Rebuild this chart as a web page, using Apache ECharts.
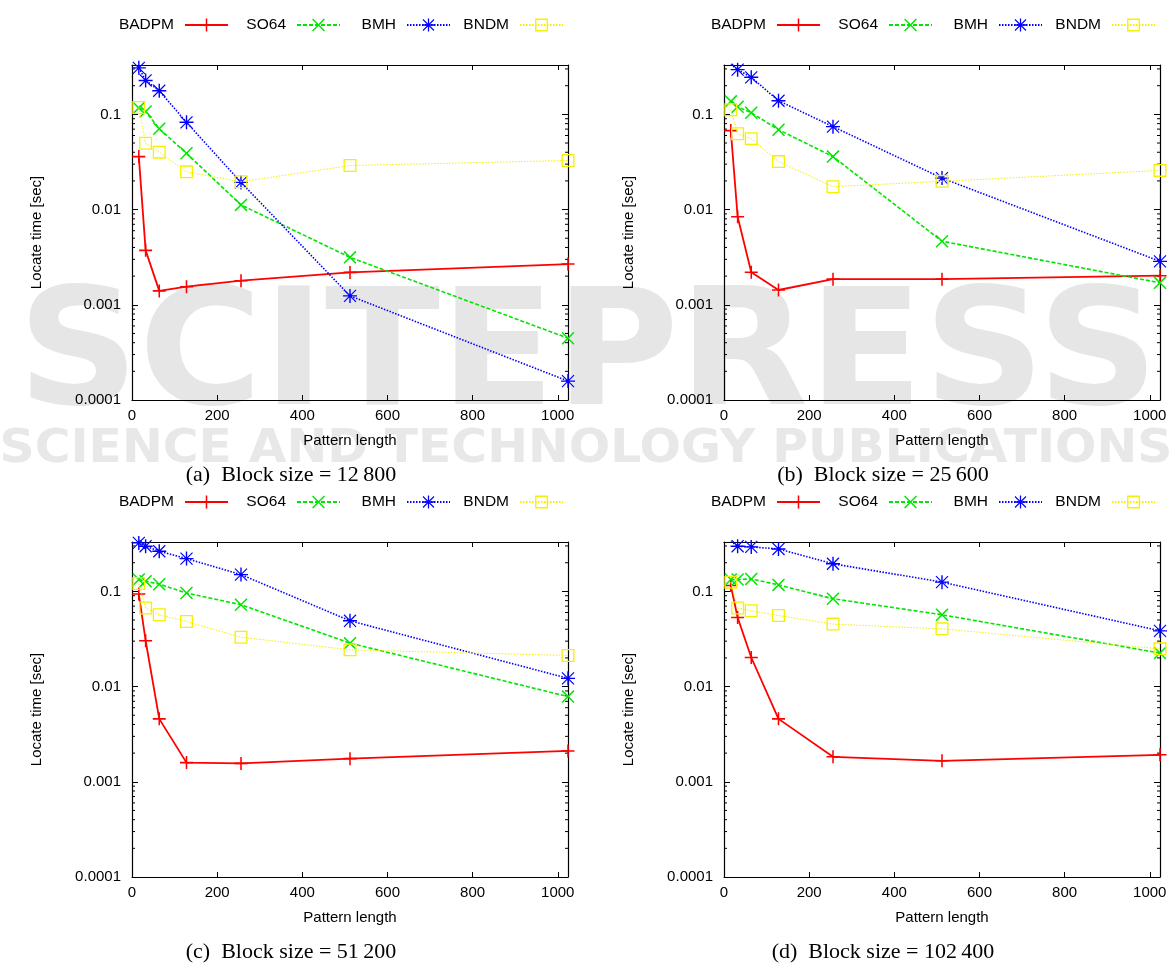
<!DOCTYPE html>
<html><head><meta charset="utf-8">
<script src="https://cdn.jsdelivr.net/npm/echarts@6/dist/echarts.min.js"></script>
<style>html,body{margin:0;padding:0;background:#fff}#chart{width:1172px;height:965px}</style>
</head><body><div id="chart"></div>
<script>
// ---------- data ----------
const patternLengths = [16, 32, 64, 128, 256, 512, 1024];
const algorithms = ['BADPM', 'SO64', 'BMH', 'BNDM'];
const captions = ['(a)\u2002Block size = 12\u2009800', '(b)\u2002Block size = 25\u2009600',
                  '(c)\u2002Block size = 51\u2009200', '(d)\u2002Block size = 102\u2009400'];
const xTickValues = [0, 200, 400, 600, 800, 1000];
const yTickLabels = ['0.0001', '0.001', '0.01', '0.1'];

// (a) block size 12 800
const a_BADPM = [0.0360, 0.00373, 0.00140, 0.00155, 0.00179, 0.00219, 0.00268];
const a_SO64  = [0.117, 0.107, 0.0705, 0.0390, 0.0112, 0.00315, 0.000446];
const a_BMH   = [0.308, 0.227, 0.177, 0.0825, 0.0193, 0.00124, 0.000158];
const a_BNDM  = [0.118, 0.0497, 0.0401, 0.0249, 0.0196, 0.0290, 0.0328];
// (b) block size 25 600
const b_BADPM = [0.0675, 0.0084, 0.00220, 0.00143, 0.00186, 0.00186, 0.00202];
const b_SO64  = [0.137, 0.120, 0.104, 0.0690, 0.0360, 0.00465, 0.00170];
const b_BMH   = [0.335, 0.295, 0.245, 0.139, 0.0743, 0.0214, 0.00286];
const b_BNDM  = [0.112, 0.0625, 0.0556, 0.0319, 0.0174, 0.0198, 0.0258];
// (c) block size 51 200
const c_BADPM = [0.0937, 0.0303, 0.00458, 0.00159, 0.00156, 0.00175, 0.00211];
const c_SO64  = [0.133, 0.128, 0.119, 0.0960, 0.0724, 0.0286, 0.00785];
const c_BMH   = [0.323, 0.298, 0.264, 0.221, 0.150, 0.0491, 0.0122];
const c_BNDM  = [0.121, 0.0668, 0.0568, 0.0483, 0.0330, 0.0243, 0.0212];
// (d) block size 102 400
const d_BADPM = [0.115, 0.0532, 0.0202, 0.00458, 0.00183, 0.00166, 0.00192];
const d_SO64  = [0.133, 0.133, 0.135, 0.117, 0.0837, 0.0568, 0.0225];
const d_BMH   = [0.336, 0.298, 0.293, 0.279, 0.195, 0.125, 0.0385];
const d_BNDM  = [0.125, 0.0668, 0.0625, 0.0558, 0.0453, 0.0404, 0.0249];

const panels = [
  [a_BADPM, a_SO64, a_BMH, a_BNDM],
  [b_BADPM, b_SO64, b_BMH, b_BNDM],
  [c_BADPM, c_SO64, c_BMH, c_BNDM],
  [d_BADPM, d_SO64, d_BMH, d_BNDM]
];

// ---------- styles ----------
const X_MAX = 1024, Y_MIN = 0.0001, Y_MAX = 0.33;
const FONT = '"Liberation Sans", Arial, Helvetica, sans-serif';
const colors = ['#ff0000', '#00e600', '#0000ff', '#f5f000'];
const sym = {
  plus: 'path://M0,44H100V56H0Z M44,0H56V100H44Z',
  cross: 'path://M0,8L8,0L100,92L92,100Z M92,0L100,8L8,100L0,92Z',
  star: 'path://M0,45H100V55H0Z M45,0H55V100H45Z M4,10L10,4L96,90L90,96Z M90,4L96,10L10,96L4,90Z',
  square: 'path://M0,0H100V100H0Z M10,10V90H90V10Z'
};
const seriesStyle = [
  {symbol: sym.plus, symbolSize: 13, lineStyle: {width: 1.8, type: 'solid'}},
  {symbol: sym.cross, symbolSize: 13, lineStyle: {width: 1.6, type: [4, 2]}},
  {symbol: sym.star, symbolSize: 14, lineStyle: {width: 1.6, type: [1.5, 1.5]}},
  {symbol: sym.square, symbolSize: 13, lineStyle: {width: 1, type: [1.5, 1.5]}}
];

const grids = [
  {left: 132, top: 65, width: 436, height: 335},
  {left: 724, top: 65, width: 436, height: 335},
  {left: 132, top: 542, width: 436, height: 335},
  {left: 724, top: 542, width: 436, height: 335}
];
const legendSampleEnds = [229, 341, 451, 564];
const legendRowY = [25, 25, 502, 502];

// minor ticks of the log axis (2..9 per decade)
const minorMultipliers = [2, 3, 4, 5, 6, 7, 8, 9];
const decades = [0.0001, 0.001, 0.01, 0.1];
const minorTickValues = [];
decades.forEach(d => minorMultipliers.forEach(m => { const v = m * d; if (v < Y_MAX) minorTickValues.push(+v.toPrecision(3)); }));

const xAxes = [], yAxes = [], series = [], legends = [], graphics = [];

function logLabel(v) {
  const l = Math.log10(v);
  if (Math.abs(l - Math.round(l)) > 1e-6) return '';
  const s = Number(v.toPrecision(1)).toFixed(Math.max(0, -Math.round(l)));
  return yTickLabels.indexOf(s) >= 0 ? s : '';
}

grids.forEach((g, i) => {
  const axisLine = {show: true, onZero: false, lineStyle: {color: '#000', width: 1.2}};
  xAxes.push({
    type: 'value', gridIndex: i, position: 'bottom', min: 0, max: X_MAX, interval: 200,
    axisLine, axisTick: {inside: true, length: 5, lineStyle: {color: '#000'}},
    splitLine: {show: false},
    axisLabel: {color: '#000', fontFamily: FONT, fontSize: 15, margin: 8, showMaxLabel: false,
      formatter: v => xTickValues.indexOf(v) >= 0 ? String(v) : ''},
    name: 'Pattern length', nameLocation: 'middle', nameGap: 33,
    nameTextStyle: {color: '#000', fontFamily: FONT, fontSize: 15}
  });
  xAxes.push({
    type: 'value', gridIndex: i, position: 'top', min: 0, max: X_MAX, interval: 200,
    axisLine, axisTick: {inside: true, length: 5, lineStyle: {color: '#000'}},
    axisLabel: {show: false}, splitLine: {show: false}
  });
  yAxes.push({
    type: 'log', logBase: 10, gridIndex: i, position: 'left', min: Y_MIN, max: Y_MAX,
    axisLine, axisTick: {inside: true, length: 6, lineStyle: {color: '#000'}},
    splitLine: {show: false},
    axisLabel: {color: '#000', fontFamily: FONT, fontSize: 15, margin: 11, showMaxLabel: false, formatter: logLabel},
    name: 'Locate time [sec]', nameLocation: 'middle', nameGap: 88, nameRotate: 90,
    nameTextStyle: {color: '#000', fontFamily: FONT, fontSize: 15}
  });
  yAxes.push({
    type: 'log', logBase: 10, gridIndex: i, position: 'right', min: Y_MIN, max: Y_MAX,
    axisLine, axisTick: {inside: true, length: 6, lineStyle: {color: '#000'}},
    axisLabel: {show: false}, splitLine: {show: false}
  });

  algorithms.forEach((name, k) => {
    const vals = panels[i][k];
    series.push({
      type: 'line', name, xAxisIndex: 2 * i, yAxisIndex: 2 * i,
      data: patternLengths.map((x, j) => [x, vals[j]]),
      color: colors[k], showAllSymbol: true, animation: false, z: 3 + k,
      symbol: seriesStyle[k].symbol, symbolSize: seriesStyle[k].symbolSize,
      lineStyle: Object.assign({color: colors[k]}, seriesStyle[k].lineStyle),
      itemStyle: {color: colors[k], borderWidth: 0}, emphasis: {disabled: true}
    });
  });

  series.push({
    type: 'custom', xAxisIndex: 2 * i, yAxisIndex: 2 * i, silent: true, animation: false, z: 2,
    data: minorTickValues.map(v => [0, v]),
    renderItem: (params, api) => {
      const v = api.value(1);
      const pl = api.coord([0, v]);
      const pr = api.coord([X_MAX, v]);
      return {type: 'group', children: [
        {type: 'line', shape: {x1: pl[0], y1: pl[1], x2: pl[0] + 3, y2: pl[1]}, style: {stroke: '#000', lineWidth: 1}},
        {type: 'line', shape: {x1: pr[0] - 3, y1: pr[1], x2: pr[0], y2: pr[1]}, style: {stroke: '#000', lineWidth: 1}}
      ]};
    }
  });

  const dx = (i % 2) * 592;
  algorithms.forEach((name, k) => {
    legends.push({
      data: [name], orient: 'horizontal', align: 'right', selectedMode: false,
      right: 1172 - (legendSampleEnds[k] + dx), top: legendRowY[i] - 8, padding: 0,
      itemWidth: 43, itemHeight: 16,
      textStyle: {color: '#000', fontFamily: FONT, fontSize: 15.5, padding: [0, 6, 0, 0]}
    });
  });

  graphics.push({
    type: 'text', z: 10,
    style: {text: captions[i], x: (i % 2 ? 883 : 291), y: g.top + g.height + 75,
      font: '22px "Liberation Serif", "Times New Roman", serif', fill: '#000',
      align: 'center', verticalAlign: 'middle', textAlign: 'center', textVerticalAlign: 'middle'}
  });
});

// publisher watermark in the background
graphics.unshift({
  type: 'text', z: -100, silent: true, x: 588, y: 362, scaleX: 1.04,
  style: {text: 'SCITEPRESS', x: 0, y: 0, font: 'bold 162px "DejaVu Sans", sans-serif', fill: '#e6e6e6',
    align: 'center', verticalAlign: 'middle', textAlign: 'center', textVerticalAlign: 'middle'}
});
graphics.unshift({
  type: 'text', z: -100, silent: true, x: 586, y: 450, scaleX: 1.06,
  style: {text: 'SCIENCE AND TECHNOLOGY PUBLICATIONS', x: 0, y: 0, font: 'bold 46px "DejaVu Sans", sans-serif', fill: '#e8e8e8',
    align: 'center', verticalAlign: 'middle', textAlign: 'center', textVerticalAlign: 'middle'}
});

const chart = echarts.init(document.getElementById('chart'), null, {renderer: 'canvas'});
chart.setOption({
  backgroundColor: '#fff',
  animation: false,
  grid: grids,
  xAxis: xAxes,
  yAxis: yAxes,
  legend: legends,
  series: series,
  graphic: {elements: graphics}
});
</script>
</body></html>
